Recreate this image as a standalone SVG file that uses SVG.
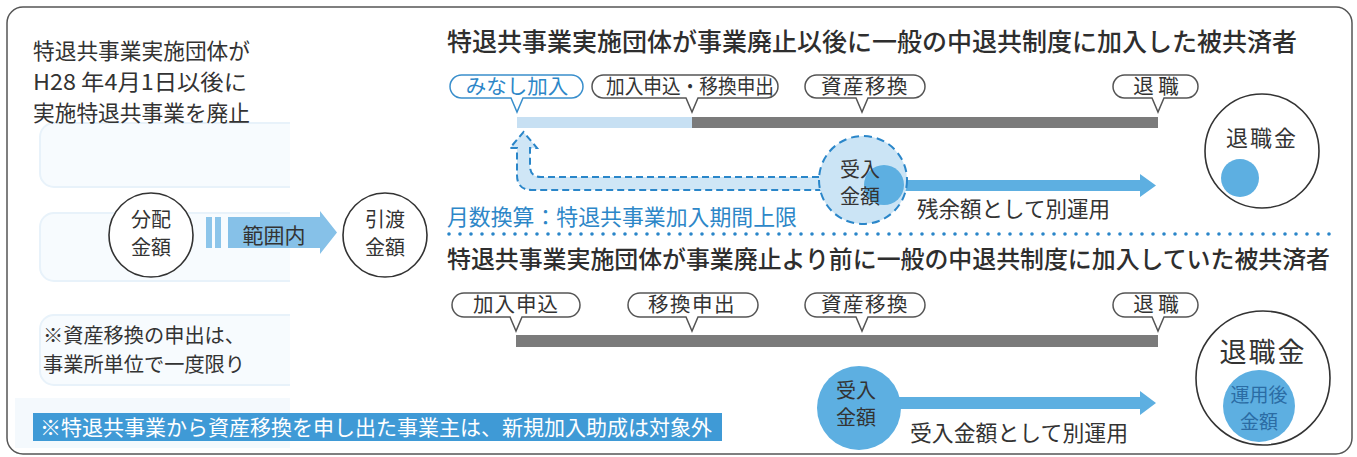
<svg xmlns="http://www.w3.org/2000/svg" width="1357" height="457" viewBox="0 0 1357 457">
<style>
.t{font-family:"Noto Sans CJK JP","Noto Sans",sans-serif;fill:#333}
.tb{font-family:"Noto Sans CJK JP","Noto Sans",sans-serif;fill:#2d87c8}
.ttl{font-family:"Noto Sans CJK JP","Noto Sans",sans-serif;fill:#2e2e2e;font-weight:500}
.bub{fill:#fff;stroke:#555;stroke-width:1.5}
.bubB{fill:#fff;stroke:#3a8fcc;stroke-width:1.5}
.circ{fill:#fff;stroke:#333;stroke-width:1.6}
.ghost{fill:#f7fbfe;stroke:#e8f2fa;stroke-width:2}
.blue{fill:#5dafe1}
</style>
<defs>
<clipPath id="leftclip"><rect x="0" y="0" width="290" height="457"/></clipPath>
</defs>
<rect x="7" y="7" width="1345" height="447" rx="16" fill="#fff" stroke="#555" stroke-width="1.5"/>
<g id="ghosts" clip-path="url(#leftclip)">
<rect class="ghost" x="40" y="123" width="270" height="64" rx="14"/>
<rect class="ghost" x="40" y="213" width="270" height="68" rx="14"/>
<rect class="ghost" x="40" y="315" width="270" height="70" rx="14"/>
<rect x="15" y="398" width="290" height="50" fill="#f4f9fd"/>
</g>
<g id="intro">
<text class="t" x="33" y="59" font-size="22" textLength="217" lengthAdjust="spacingAndGlyphs">特退共事業実施団体が</text>
<text class="t" x="33" y="90" font-size="22" textLength="214" lengthAdjust="spacingAndGlyphs">H28 年4月1日以後に</text>
<text class="t" x="33" y="121" font-size="22" textLength="217" lengthAdjust="spacingAndGlyphs">実施特退共事業を廃止</text>
</g>
<g id="note1">
<text class="t" x="43" y="343" font-size="20.5" textLength="202" lengthAdjust="spacingAndGlyphs">※資産移換の申出は、</text>
<text class="t" x="43" y="372" font-size="20.5" textLength="202" lengthAdjust="spacingAndGlyphs">事業所単位で一度限り</text>
</g>
<g id="banner">
<rect x="33" y="413" width="689" height="28" fill="#3f9ad6"/>
<text x="40" y="435" font-size="21" textLength="672" lengthAdjust="spacingAndGlyphs" style="font-family:'Noto Sans CJK JP','Noto Sans',sans-serif;fill:#fff">※特退共事業から資産移換を申し出た事業主は、新規加入助成は対象外</text>
</g>
<g id="node-bunpai">
<circle class="circ" cx="151" cy="235" r="42"/>
<text class="t" x="151" y="227" font-size="20" text-anchor="middle">分配</text>
<text class="t" x="151" y="255" font-size="20" text-anchor="middle">金額</text>
</g>
<g id="node-hikiwatashi">
<circle class="circ" cx="385" cy="235" r="42"/>
<text class="t" x="385" y="227" font-size="20" text-anchor="middle">引渡</text>
<text class="t" x="385" y="255" font-size="20" text-anchor="middle">金額</text>
</g>
<g id="titles">
<text class="ttl" x="447" y="51" font-size="25" textLength="850" lengthAdjust="spacingAndGlyphs">特退共事業実施団体が事業廃止以後に一般の中退共制度に加入した被共済者</text>
<text class="ttl" x="447" y="268" font-size="24" textLength="883" lengthAdjust="spacingAndGlyphs">特退共事業実施団体が事業廃止より前に一般の中退共制度に加入していた被共済者</text>
<line x1="449" y1="234" x2="1333" y2="234" stroke="#2a86c9" stroke-width="3.6" stroke-linecap="round" stroke-dasharray="0 11"/>
</g>
<g id="timeline-top">
<rect x="517" y="117" width="175" height="11" fill="#c7e0f3"/>
<rect x="692" y="117" width="466" height="11" fill="#7b7b7b"/>
</g>
<g id="timeline-bottom">
<rect x="516" y="335" width="642" height="12" fill="#7b7b7b"/>
</g>
<g id="connectors">
<rect x="206" y="217" width="6" height="31" fill="#8cc5ea"/>
<rect x="215" y="217" width="6" height="31" fill="#8cc5ea"/>
<path d="M228 217 H320 V211 L337 232.5 L320 254 V248 H228 Z" fill="#86c1e8"/>
<text class="t" x="274" y="243" font-size="21" text-anchor="middle">範囲内</text>
<path d="M830 177 H541 Q530 177 530 166 V148 H537 L523.5 132 L510 148 H517 V175 Q517 190 532 190 H830 Z" fill="#cfe6f6" stroke="#2a86c9" stroke-width="2" stroke-dasharray="7 4"/>
<path d="M900 180 H1140 V174 L1156 185.5 L1140 197 V191 H900 Z" fill="#5dafe1"/>
<path d="M895 397 H1140 V391 L1156 403 L1140 415 V409 H895 Z" fill="#5dafe1"/>
</g>
<g id="node-ukeire-top">
<circle cx="863" cy="180" r="44" fill="#cbe4f5" stroke="#2a86c9" stroke-width="2" stroke-dasharray="8 5"/>
<circle class="blue" cx="884" cy="185" r="20"/>
<text class="t" x="860" y="177" font-size="20" text-anchor="middle">受入</text>
<text class="t" x="860" y="204" font-size="20" text-anchor="middle">金額</text>
</g>
<text class="t" x="917" y="217" font-size="21.5" textLength="193" lengthAdjust="spacingAndGlyphs">残余額として別運用</text>
<text class="tb" x="447" y="225" font-size="22" textLength="350" lengthAdjust="spacingAndGlyphs">月数換算：特退共事業加入期間上限</text>
<g id="node-ukeire-bottom">
<circle class="blue" cx="859" cy="408" r="42"/>
<text class="t" x="856" y="398" font-size="20" text-anchor="middle">受入</text>
<text class="t" x="856" y="425" font-size="20" text-anchor="middle">金額</text>
</g>
<text class="t" x="910" y="441" font-size="21.5" textLength="218" lengthAdjust="spacingAndGlyphs">受入金額として別運用</text>
<g id="bubbles-top">
<path class="bubB" d="M461.5 75 H571.5 A11.5 11.5 0 0 1 571.5 98 H523 L517 112 L511 98 H461.5 A11.5 11.5 0 0 1 461.5 75 Z"/>
<text class="tb" x="517" y="94" font-size="20.5" text-anchor="middle">みなし加入</text>
<path class="bub" d="M603.5 75 H766.5 A11.5 11.5 0 0 1 766.5 98 H698 L692 112 L686 98 H603.5 A11.5 11.5 0 0 1 603.5 75 Z"/>
<text class="t" x="690" y="94" font-size="20.5" text-anchor="middle" textLength="168" lengthAdjust="spacingAndGlyphs">加入申込・移換申出</text>
<path class="bub" d="M816.5 75 H913.5 A11.5 11.5 0 0 1 913.5 98 H868 L862 112 L856 98 H816.5 A11.5 11.5 0 0 1 816.5 75 Z"/>
<text class="t" x="865" y="94" font-size="20.5" text-anchor="middle" letter-spacing="1.5">資産移換</text>
<path class="bub" d="M1124.5 75 H1186.5 A11.5 11.5 0 0 1 1186.5 98 H1164 L1158 112 L1152 98 H1124.5 A11.5 11.5 0 0 1 1124.5 75 Z"/>
<text class="t" x="1156" y="94" font-size="20.5" text-anchor="middle">退 職</text>
</g>
<g id="bubbles-bottom">
<path class="bub" d="M464 293 H568 A12 12 0 0 1 568 317 H522 L516 331 L510 317 H464 A12 12 0 0 1 464 293 Z"/>
<text class="t" x="516" y="312" font-size="20.5" text-anchor="middle" letter-spacing="1">加入申込</text>
<path class="bub" d="M640 293 H746 A12 12 0 0 1 746 317 H698 L692 331 L686 317 H640 A12 12 0 0 1 640 293 Z"/>
<text class="t" x="692" y="312" font-size="20.5" text-anchor="middle" letter-spacing="1.5">移換申出</text>
<path class="bub" d="M817 293 H913 A12 12 0 0 1 913 317 H868 L862 331 L856 317 H817 A12 12 0 0 1 817 293 Z"/>
<text class="t" x="865" y="312" font-size="20.5" text-anchor="middle" letter-spacing="1.5">資産移換</text>
<path class="bub" d="M1125 293 H1186 A12 12 0 0 1 1186 317 H1164 L1158 331 L1152 317 H1125 A12 12 0 0 1 1125 293 Z"/>
<text class="t" x="1156" y="312" font-size="20.5" text-anchor="middle">退 職</text>
</g>
<g id="node-taishokukin-top">
<circle class="circ" cx="1262" cy="151" r="57"/>
<text class="t" x="1262" y="146" font-size="22" text-anchor="middle" letter-spacing="2">退職金</text>
<circle class="blue" cx="1240" cy="178" r="19"/>
</g>
<g id="node-taishokukin-bottom">
<circle class="circ" cx="1263" cy="378" r="67"/>
<text class="t" x="1263" y="362" font-size="27" text-anchor="middle" letter-spacing="2">退職金</text>
<circle class="blue" cx="1259" cy="406" r="36"/>
<text x="1259" y="402" font-size="19" text-anchor="middle" style="font-family:'Noto Sans CJK JP','Noto Sans',sans-serif;fill:#2b6ca4">運用後</text>
<text x="1259" y="429" font-size="19" text-anchor="middle" style="font-family:'Noto Sans CJK JP','Noto Sans',sans-serif;fill:#2b6ca4">金額</text>
</g>
</svg>
